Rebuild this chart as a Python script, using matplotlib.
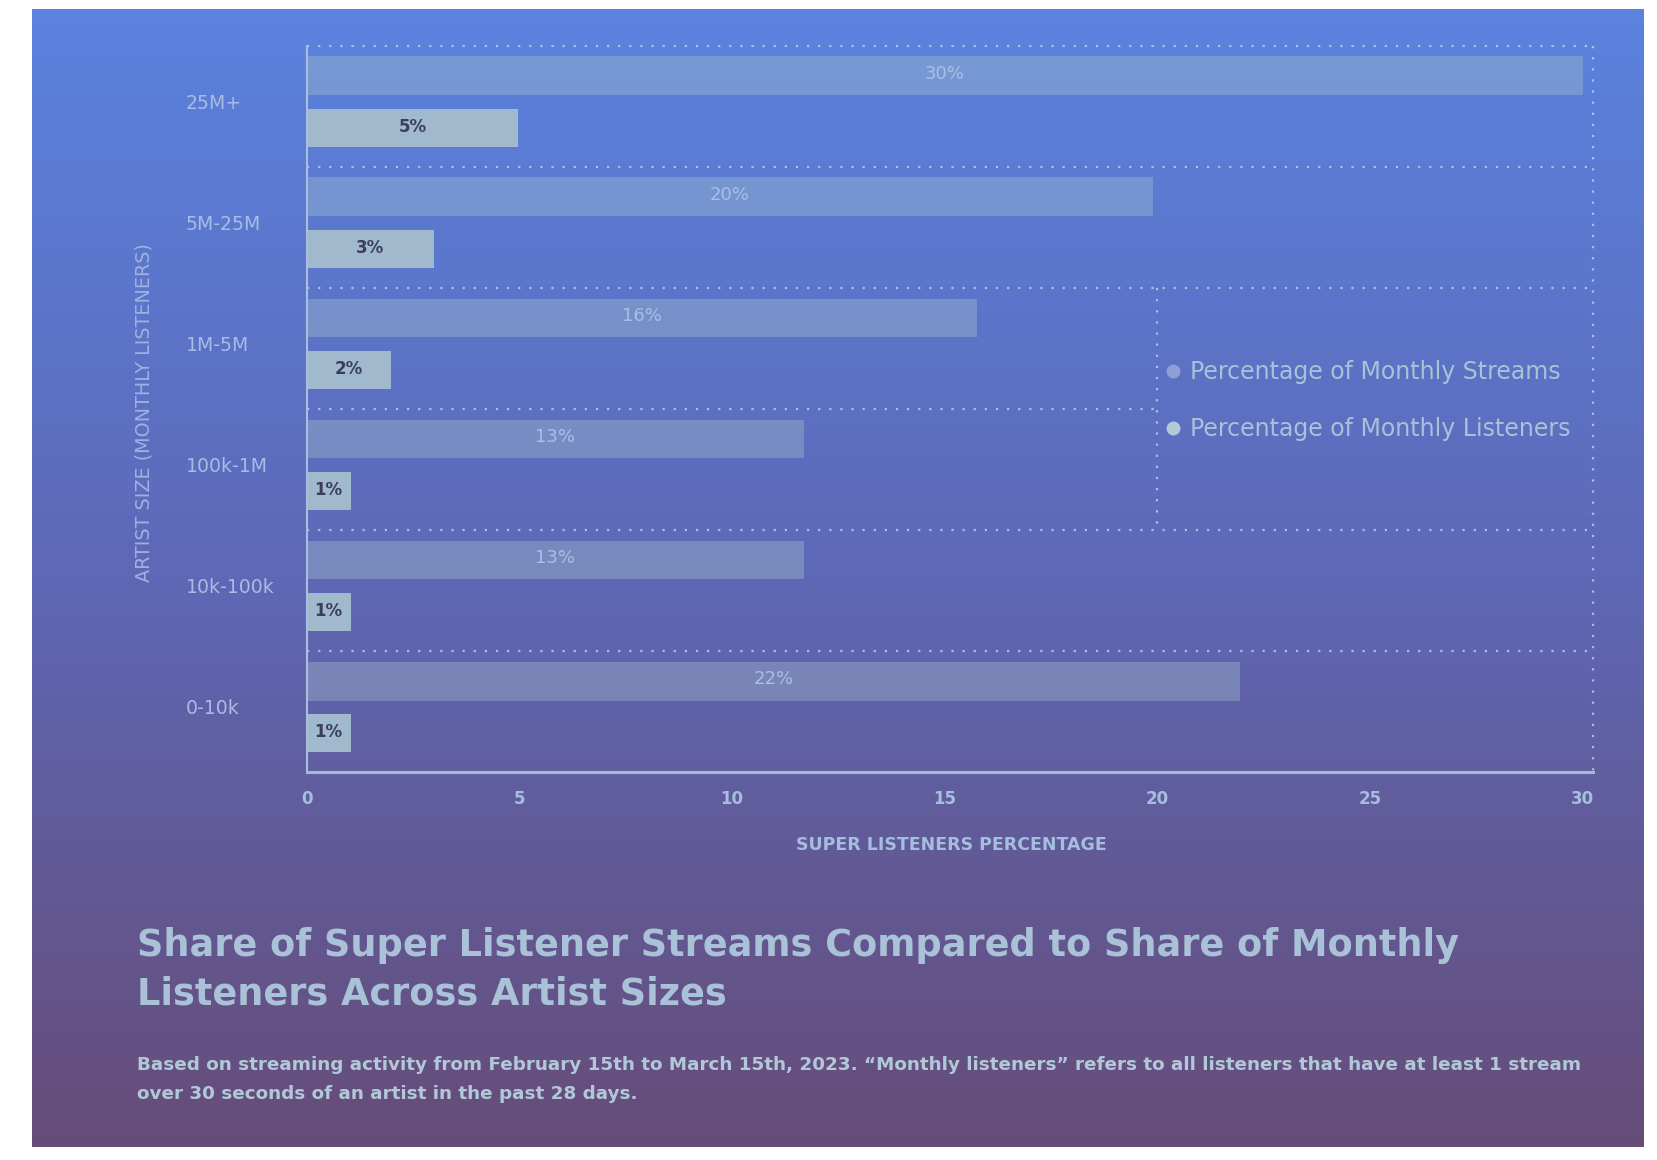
import numpy as np
import matplotlib.pyplot as plt
from matplotlib.colors import LinearSegmentedColormap
from matplotlib.lines import Line2D


# data
categories = ["25M+", "5M-25M", "1M-5M", "100k-1M", "10k-100k", "0-10k"]
stream_values = [30, 19.9, 15.75, 11.7, 11.7, 21.95]  # bar lengths as drawn
stream_labels = ["30%", "20%", "16%", "13%", "13%", "22%"]
listener_values = [4.98, 2.99, 1.99, 1.04, 1.04, 1.04]
listener_labels = ["5%", "3%", "2%", "1%", "1%", "1%"]
x_ticks = [0, 5, 10, 15, 20, 25, 30]
legend_names = ["Percentage of Monthly Streams", "Percentage of Monthly Listeners"]

title_lines = ["Share of Super Listener Streams Compared to Share of Monthly",
               "Listeners Across Artist Sizes"]
note_lines = ["Based on streaming activity from February 15th to March 15th, 2023. "
              "\u201cMonthly listeners\u201d refers to all listeners that have at least 1 stream",
              "over 30 seconds of an artist in the past 28 days."]

# colours
stream_color = "#a8c4cc"
listener_color = "#a0b9cc"
text_light = "#a9c2d8"
dot_color = "#c4d2ee"
dots = (0, (1, 4))

W, H = 1658, 1160
fig = plt.figure(figsize=(W / 100, H / 100), dpi=100)
fig.patch.set_facecolor("white")

# gradient panel behind everything
bg = fig.add_axes([32 / W, 1 - 1147 / H, (1644 - 32) / W, (1147 - 8.5) / H])
cmap = LinearSegmentedColormap.from_list("bg", ["#5a83df", "#5e68b6", "#664c78"])
bg.imshow(np.linspace(0, 1, 256).reshape(-1, 1), aspect="auto", cmap=cmap,
          extent=[0, 1, 0, 1])
bg.axis("off")

# main chart
ax = fig.add_axes([306.6 / W, 1 - 772 / H, (1593 - 306.6) / W, (772 - 45.5) / H])
ax.set_facecolor("none")
n = len(categories)
y = np.arange(n)
x_max = 30.24
legend_left = 20

ax.barh(y + 0.25, stream_values, height=0.32, color=stream_color, alpha=0.36, linewidth=0)
ax.barh(y + 0.68, listener_values, height=0.315, color=listener_color, linewidth=0)

for i in range(n):
    ax.text(stream_values[i] / 2, i + 0.235, stream_labels[i], ha="center", va="center",
            fontsize=13, color="#a9bfe6")
    ax.text(listener_values[i] / 2, i + 0.67, listener_labels[i], ha="center", va="center",
            fontsize=12, fontweight="bold", color="#3c3c5c")

# dotted group separators and frame
for b in range(n):
    right = legend_left if b == 3 else x_max
    ax.hlines(b, 0, right, colors=dot_color, linestyles=[dots], linewidth=1.6,
              alpha=0.8, clip_on=False)
ax.vlines(x_max, 0, n, colors=dot_color, linestyles=[dots], linewidth=1.6,
          alpha=0.8, clip_on=False)
ax.vlines(legend_left, 2, 4, colors=dot_color, linestyles=[dots], linewidth=1.6,
          alpha=0.8)

ax.set_xlim(0, x_max)
ax.set_ylim(n, 0)

for s in ["top", "right"]:
    ax.spines[s].set_visible(False)
ax.spines["left"].set_color("#a8bde0")
ax.spines["left"].set_linewidth(1.5)
ax.spines["bottom"].set_color("#a6b8d8")
ax.spines["bottom"].set_linewidth(2.2)

ax.set_xticks(x_ticks)
ax.set_xticklabels([str(t) for t in x_ticks], fontsize=12, fontweight="bold",
                   color="#a6bede")
ax.tick_params(axis="x", length=0, pad=13)
ax.set_yticks(y + 0.46)
ax.set_yticklabels(categories, fontsize=13.6, color="#a8bce4", ha="left")
ax.tick_params(axis="y", length=0, pad=86.8)

ax.set_xlabel("SUPER LISTENERS PERCENTAGE", fontsize=12.5, fontweight="bold",
              color="#a6bede", va="center")
ax.xaxis.set_label_coords(0.501, -0.1005)
ax.set_ylabel("ARTIST SIZE (MONTHLY LISTENERS)", fontsize=13.8, color="#9fb1e0",
              va="center")
ax.yaxis.set_label_coords(-0.1264, 0.4955)

handles = [Line2D([], [], marker="o", linestyle="", markersize=10,
                  markerfacecolor="#8e9fd6", markeredgewidth=0),
           Line2D([], [], marker="o", linestyle="", markersize=10,
                  markerfacecolor="#b4cad6", markeredgewidth=0)]
ax.legend(handles, legend_names, loc="center left", bbox_to_anchor=(0.668, 0.5114),
          frameon=False, fontsize=17, labelcolor=text_light, handlelength=0.6,
          handletextpad=0.42, borderpad=0, borderaxespad=0, labelspacing=1.4)

# title and note
fig.text(137.5 / W, 1 - 946 / H, title_lines[0], fontsize=26.4, fontweight="bold",
         color=text_light, va="center")
fig.text(137.5 / W, 1 - 994 / H, title_lines[1], fontsize=26.4, fontweight="bold",
         color=text_light, va="center")
fig.text(137.5 / W, 1 - 1065 / H, note_lines[0], fontsize=13.2, fontweight="bold",
         color="#b0c8d8", va="center")
fig.text(137.5 / W, 1 - 1094 / H, note_lines[1], fontsize=13.2, fontweight="bold",
         color="#b0c8d8", va="center")

fig.savefig("out.png", dpi=100, facecolor=fig.get_facecolor())
